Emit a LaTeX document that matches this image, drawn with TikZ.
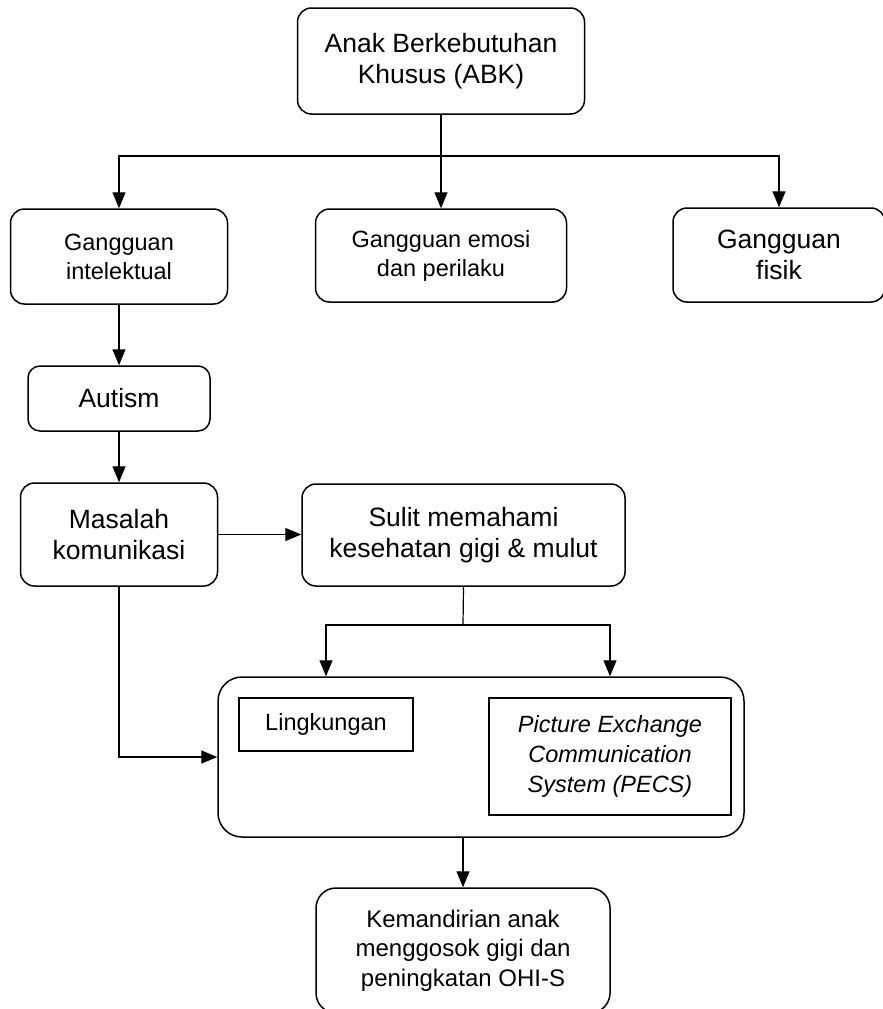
\documentclass[tikz,border=0pt]{standalone}
\usepackage{fontspec}
\setmainfont{Liberation Sans}
\usepackage{tikz}
\usetikzlibrary{arrows.meta}
\tikzstyle{box}=[rectangle, draw=black, rounded corners=14pt, line width=1.5pt,
        align=center, inner sep=0pt, font=\fontsize{26.5}{31.5}\selectfont]
\tikzstyle{boxs}=[box, font=\fontsize{23.5}{29}\selectfont]
\tikzstyle{inbox}=[rectangle, draw=black, line width=1.5pt, align=center, inner sep=0pt, font=\fontsize{23.5}{30}\selectfont]
\tikzstyle{line}=[draw, line width=1.2pt]
\tikzstyle{arr}=[line, -{Triangle[length=16pt,width=13pt]}]

\begin{document}
\begin{tikzpicture}[x=1pt, y=-1pt]
\useasboundingbox (0,0) rectangle (883,1009);
\node [box, minimum width=287, minimum height=106] (abk) at (441,61) {Anak Berkebutuhan\\Khusus (ABK)};
\node [boxs, minimum width=217, minimum height=95] (gi) at (119,256.5) {Gangguan\\intelektual};
\node [boxs, minimum width=251, minimum height=93] (gep) at (441,255.5) {Gangguan emosi\\dan perilaku};
\node [box, minimum width=212, minimum height=94] (gf) at (779,255) {Gangguan\\fisik};
\node [box, rounded corners=12pt, minimum width=182, minimum height=65] (aut) at (119,398.5) {Autism};
\node [box, minimum width=197, minimum height=103] (mk) at (119,534.5) {Masalah\\komunikasi};
\node [box, minimum width=323, minimum height=102] (sulit) at (463.5,535) {Sulit memahami\\kesehatan gigi \& mulut};
\node [box, rounded corners=24pt, minimum width=526, minimum height=160] (big) at (481,757) {};
\node [inbox, minimum width=174, minimum height=53] (ling) at (326,724.5) {Lingkungan};
\node [inbox, minimum width=242, minimum height=117] (pecs) at (610,756.5) {\itshape Picture Exchange\\\itshape Communication\\\itshape System (PECS)};
\node [boxs, rounded corners=20pt, minimum width=294, minimum height=125, font=\fontsize{24}{29.5}\selectfont] (kem) at (463,950.5) {Kemandirian anak\\menggosok gigi dan\\peningkatan OHI-S};

% connectors
\coordinate (top) at (441,156);
\coordinate (split) at (463,625);
\draw [arr] (abk.south) -- (gep.north);
\draw [arr] (top) -| (gi.north);
\draw [arr] (top) -| (gf.north);
\draw [arr] (gi.south) -- (aut.north);
\draw [arr] (aut.south) -- (mk.north);
\draw [arr] (mk.east) -- (sulit.west |- mk.east);
\draw [line] (sulit.south) -- (split);
\draw [arr] (split) -| (ling.north |- big.north);
\draw [arr] (split) -| (pecs.north |- big.north);
\draw [arr] (mk.south) |- (big.west);
\draw [arr] (kem.north |- big.south) -- (kem.north);
\end{tikzpicture}
\end{document}
